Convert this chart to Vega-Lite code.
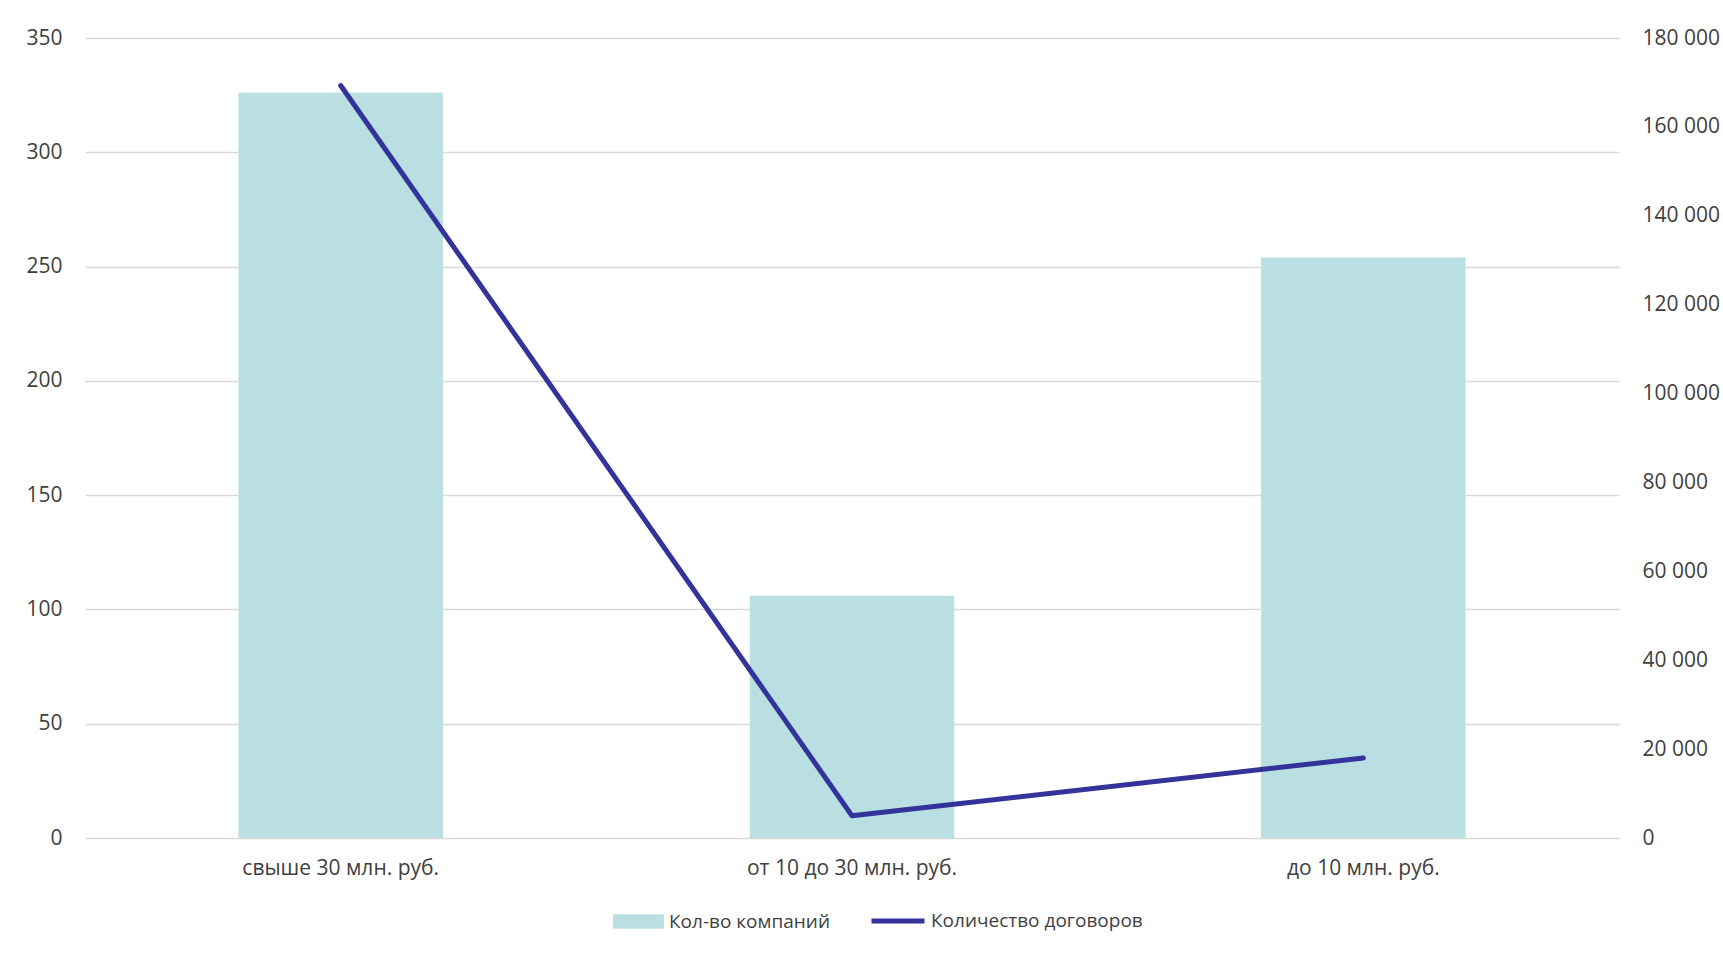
{
  "$schema": "https://vega.github.io/schema/vega-lite/v6.json",
  "width": 1534,
  "height": 800,
  "autosize": {"type": "none"},
  "padding": {"left": 85, "top": 38, "right": 104, "bottom": 116},
  "background": "white",
  "data": {
    "values": [
      {"cat": "свыше 30 млн. руб.", "companies": 326, "contracts": 169300},
      {"cat": "от 10 до 30 млн. руб.", "companies": 106, "contracts": 5000},
      {"cat": "до 10 млн. руб.", "companies": 254, "contracts": 18000}
    ]
  },
  "encoding": {
    "x": {
      "field": "cat",
      "type": "nominal",
      "sort": null,
      "scale": {"paddingInner": 0.6, "paddingOuter": 0.3},
      "axis": {
        "title": null,
        "labelAngle": 0,
        "ticks": false,
        "domain": false,
        "labelPadding": 19,
        "labelLimit": 0,
        "labelFontSize": 21,
        "labelFont": "Open Sans",
        "labelColor": "#404040"
      }
    }
  },
  "layer": [
    {
      "mark": {"type": "bar", "color": "#BADFE2"},
      "encoding": {
        "y": {
          "field": "companies",
          "type": "quantitative",
          "scale": {"domain": [0, 350], "nice": false},
          "axis": {
            "title": null,
            "values": [0, 50, 100, 150, 200, 250, 300, 350],
            "grid": true,
            "gridColor": "#D9D9D9",
            "gridWidth": 1.3,
            "domain": false,
            "ticks": false,
            "labelPadding": 23,
            "labelFontSize": 21,
            "labelFont": "Open Sans",
            "labelColor": "#404040"
          }
        },
        "fill": {
          "datum": "Кол-во компаний",
          "type": "nominal",
          "scale": {"range": ["#BADFE2"]},
          "legend": {
            "title": null,
            "orient": "none",
            "legendX": 527,
            "legendY": 857,
            "symbolType": "M-0.96,-0.27H0.96V0.27H-0.96Z",
            "symbolSize": 2809,
            "symbolStrokeWidth": 0,
            "labelFontSize": 19,
            "labelLimit": 0,
            "labelFont": "Open Sans",
            "labelColor": "#404040",
            "labelOffset": 4
          }
        }
      }
    },
    {
      "mark": {"type": "line", "color": "#333399", "strokeWidth": 5, "strokeCap": "round", "strokeJoin": "round"},
      "encoding": {
        "y": {
          "field": "contracts",
          "type": "quantitative",
          "scale": {"domain": [0, 180000], "nice": false},
          "axis": {
            "title": null,
            "orient": "right",
            "values": [0, 20000, 40000, 60000, 80000, 100000, 120000, 140000, 160000, 180000],
            "labelExpr": "replace(format(datum.value, ','), regexp(',', 'g'), ' ')",
            "grid": false,
            "domain": false,
            "ticks": false,
            "labelPadding": 23,
            "labelFontSize": 21,
            "labelFont": "Open Sans",
            "labelColor": "#404040"
          }
        },
        "stroke": {
          "datum": "Количество договоров",
          "type": "nominal",
          "scale": {"range": ["#333399"]},
          "legend": {
            "title": null,
            "orient": "none",
            "legendX": 784,
            "legendY": 854,
            "symbolType": "stroke",
            "symbolSize": 2809,
            "symbolStrokeWidth": 5,
            "labelFontSize": 19,
            "labelLimit": 0,
            "labelFont": "Open Sans",
            "labelColor": "#404040",
            "labelOffset": 4
          }
        }
      }
    }
  ],
  "resolve": {"scale": {"y": "independent"}},
  "config": {
    "view": {"stroke": null}
  }
}
